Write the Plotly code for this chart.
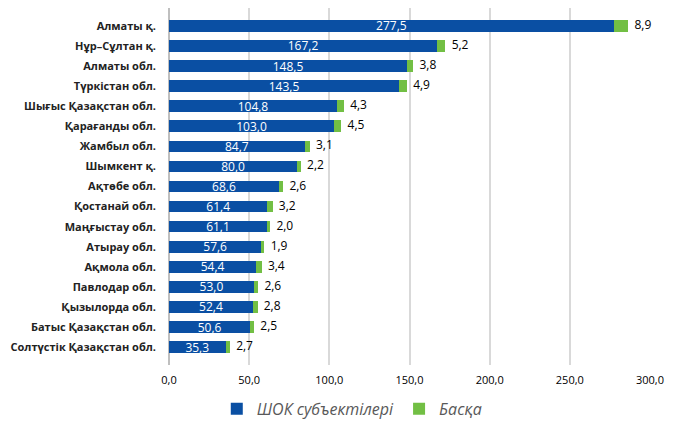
import plotly.graph_objects as go

regions = ["Алматы қ.", "Нұр–Сұлтан қ.", "Алматы обл.", "Түркістан обл.",
           "Шығыс Қазақстан обл.", "Қарағанды обл.", "Жамбыл обл.", "Шымкент қ.",
           "Ақтөбе обл.", "Қостанай обл.", "Маңғыстау обл.", "Атырау обл.",
           "Ақмола обл.", "Павлодар обл.", "Қызылорда обл.", "Батыс Қазақстан обл.",
           "Солтүстік Қазақстан обл."]
shok = [277.5, 167.2, 148.5, 143.5, 104.8, 103.0, 84.7, 80.0, 68.6, 61.4, 61.1,
        57.6, 54.4, 53.0, 52.4, 50.6, 35.3]
other = [8.9, 5.2, 3.8, 4.9, 4.3, 4.5, 3.1, 2.2, 2.6, 3.2, 2.0, 1.9, 3.4, 2.6,
         2.8, 2.5, 2.7]
tick_vals = [0, 50, 100, 150, 200, 250, 300]
tick_text = ["0,0", "50,0", "100,0", "150,0", "200,0", "250,0", "300,0"]

def fmt(v):
    return f"{v:.1f}".replace(".", ",")

blue = "#0A4FA3"
green = "#72BF44"
font = "Open Sans"

fig = go.Figure()
fig.add_trace(go.Bar(
    y=regions, x=shok, orientation="h", name="ШОК субъектілері",
    marker=dict(color=blue, line=dict(width=0)),
    text=[fmt(v) for v in shok], textposition="inside", insidetextanchor="middle",
    constraintext="none",
    textfont=dict(color="white", size=12, family=font), width=0.58,
))
fig.add_trace(go.Bar(
    y=regions, x=other, orientation="h", name="Басқа",
    marker=dict(color=green, line=dict(width=0)), width=0.58,
))
fig.add_trace(go.Scatter(
    y=regions, x=[a + b for a, b in zip(shok, other)], mode="text",
    text=["  " + fmt(v) for v in other], textposition="middle right",
    textfont=dict(color="#000000", size=12, family=font),
    showlegend=False, hoverinfo="skip", cliponaxis=False,
))

fig.update_layout(
    barmode="stack",
    width=665, height=413,
    margin=dict(l=161, r=23, t=0, b=56, autoexpand=False),
    paper_bgcolor="white", plot_bgcolor="white",
    font=dict(family=font, size=11, color="#000000"),
    xaxis=dict(range=[0, 300], tickvals=tick_vals, ticktext=tick_text,
               showgrid=True, gridcolor="#D9D9D9", gridwidth=1.5,
               zeroline=True, zerolinecolor="#BFBFBF", zerolinewidth=1.5,
               tickfont=dict(size=11, family=font, color="#000000"), ticks="",
               ticklabelstandoff=7,
               showline=False, automargin=False),
    yaxis=dict(autorange="reversed", ticks="", showgrid=False,
               tickfont=dict(size=11, family=font, color="#222222", weight="bold"),
               ticklabelstandoff=12, automargin=False),
    legend=dict(orientation="h", x=0.38, xanchor="center", y=-0.075, yanchor="top",
                font=dict(size=16, family=font, color="#595959", style="italic"),
                itemwidth=30, traceorder="normal"),
    bargap=0.42,
)

fig.write_html("out.html")
